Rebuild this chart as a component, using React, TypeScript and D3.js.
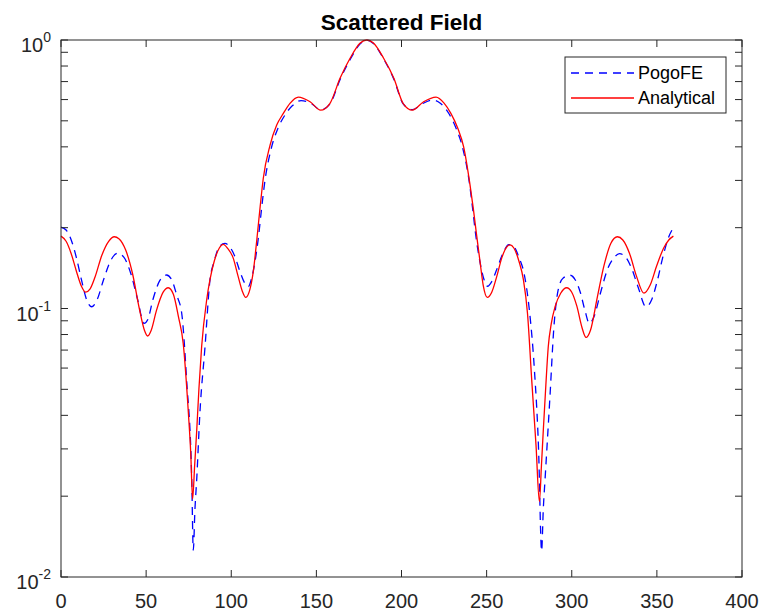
import React, { useEffect, useRef } from "react";
import * as d3 from "d3";

// angle (deg) and normalised field amplitude
const pogoAngle = [0, 3, 6, 9, 12, 15, 18, 21, 25, 29, 33.3, 37, 41, 45, 48.8, 51, 54, 58, 62, 65, 68, 70.9, 73.8, 76.8, 77.7, 78.7, 79.7, 81.6, 84.6, 87.5, 90, 93, 96.3, 99, 102, 105, 108, 110, 112, 114, 116, 117.8, 119.5, 123.5, 127.5, 131.5, 136, 141, 147, 152.5, 158, 164, 170, 175.6, 179.6, 183.5, 189.5, 195.5, 201, 206.4, 212.5, 218.5, 223, 228, 232, 236, 240, 241.8, 243.5, 246, 248.5, 250.5, 253, 256, 259.5, 263, 266, 269, 272, 275, 278, 280.5, 282.3, 283.3, 284.3, 287.2, 289.5, 292, 295, 299, 302, 305, 308, 310.3, 313, 317, 321, 325, 328, 331, 335, 339, 343.6, 347, 350, 354, 357, 359.7];
const pogoField = [0.201, 0.196, 0.18, 0.155, 0.128, 0.108, 0.1015, 0.107, 0.128, 0.15, 0.1605, 0.155, 0.135, 0.108, 0.088, 0.091, 0.108, 0.127, 0.1333, 0.128, 0.112, 0.096, 0.054, 0.023, 0.0126, 0.018, 0.023, 0.041, 0.0721, 0.1277, 0.15, 0.17, 0.1749, 0.17, 0.157, 0.138, 0.124, 0.1206, 0.13, 0.15, 0.185, 0.235, 0.29, 0.395, 0.47, 0.525, 0.57, 0.595, 0.58, 0.55, 0.578, 0.715, 0.85, 0.965, 1.0, 0.97, 0.85, 0.715, 0.578, 0.55, 0.58, 0.598, 0.58, 0.53, 0.47, 0.395, 0.29, 0.235, 0.19, 0.15, 0.128, 0.121, 0.126, 0.14, 0.16, 0.173, 0.17, 0.155, 0.135, 0.1, 0.06, 0.03, 0.0125, 0.018, 0.023, 0.047, 0.085, 0.117, 0.13, 0.133, 0.128, 0.115, 0.097, 0.088, 0.093, 0.115, 0.14, 0.155, 0.16, 0.157, 0.142, 0.12, 0.1015, 0.108, 0.125, 0.16, 0.185, 0.2];

const analyticAngle = [0, 3, 6, 9, 12, 14.5, 17, 20, 24, 28, 31.3, 34, 38, 42, 46, 49, 50.9, 53, 56, 60, 63, 66, 69, 71.8, 74.8, 76.2, 77.3, 78.5, 79.7, 81, 82.6, 85.6, 87.5, 90, 93, 95.3, 98, 101, 104, 106.5, 108.5, 111, 113, 115, 117, 118.8, 122.8, 126.7, 130.6, 134.5, 139.4, 146.3, 152.5, 158, 163.9, 169.8, 175.6, 179.6, 183.5, 189.5, 195.5, 201, 206.4, 213, 220.3, 225, 229, 233, 236.5, 240.2, 242.2, 244, 246.1, 248, 250.4, 253, 256, 259, 262, 263.7, 266, 269, 271.6, 274, 276.5, 279, 281, 282.2, 283.3, 284.8, 286.2, 288, 290.2, 293.5, 297, 300, 303, 306, 308.4, 311, 315, 319, 323, 326.8, 330, 334, 338, 342.4, 346, 350, 354, 357, 359.7];
const analyticField = [0.186, 0.178, 0.16, 0.138, 0.121, 0.115, 0.118, 0.131, 0.158, 0.178, 0.185, 0.182, 0.165, 0.135, 0.1, 0.083, 0.079, 0.083, 0.098, 0.115, 0.1195, 0.113, 0.093, 0.074, 0.041, 0.029, 0.0195, 0.026, 0.035, 0.05, 0.072, 0.108, 0.128, 0.15, 0.168, 0.1734, 0.167, 0.155, 0.132, 0.116, 0.11, 0.118, 0.138, 0.18, 0.24, 0.305, 0.406, 0.482, 0.533, 0.581, 0.613, 0.589, 0.548, 0.581, 0.72, 0.855, 0.972, 1.0, 0.975, 0.855, 0.72, 0.58, 0.548, 0.589, 0.613, 0.582, 0.533, 0.47, 0.4, 0.29, 0.235, 0.19, 0.15, 0.122, 0.11, 0.115, 0.132, 0.155, 0.17, 0.1725, 0.168, 0.15, 0.128, 0.096, 0.054, 0.031, 0.0191, 0.026, 0.0353, 0.052, 0.072, 0.088, 0.1015, 0.114, 0.1195, 0.115, 0.102, 0.085, 0.078, 0.083, 0.11, 0.145, 0.175, 0.185, 0.18, 0.16, 0.132, 0.114, 0.122, 0.145, 0.168, 0.18, 0.186];

const xTicks = [0, 50, 100, 150, 200, 250, 300, 350, 400];
const yDecades = [0.01, 0.1, 1];
const yExponents = ["-2", "-1", "0"];
const seriesNames = ["PogoFE", "Analytical"];

export default function App() {
  const ref = useRef<SVGSVGElement>(null);

  useEffect(() => {
    const W = 764, H = 616;
    const left = 61, right = 742, top = 40, bottom = 577;
    const svg = d3.select(ref.current);
    svg.selectAll("*").remove();
    svg.attr("width", W).attr("height", H);

    const font = "'Liberation Sans', Arial, Helvetica, sans-serif";
    const axisCol = "#262626";

    const x = d3.scaleLinear().domain([0, 400]).range([left, right]);
    const y = d3.scaleLog().domain([0.01, 1]).range([bottom, top]);

    svg.append("rect").attr("width", W).attr("height", H).attr("fill", "#fff");

    // data lines
    const line = (xs: number[], vs: number[]) =>
      d3.line<number>()
        .x((d, i) => x(xs[i]))
        .y((d) => y(d))
        .curve(d3.curveMonotoneX)(vs);

    svg.append("path")
      .attr("d", line(pogoAngle, pogoField))
      .attr("fill", "none")
      .attr("stroke", "#0000ff")
      .attr("stroke-width", 1.3)
      .attr("stroke-dasharray", "8,6");

    svg.append("path")
      .attr("d", line(analyticAngle, analyticField))
      .attr("fill", "none")
      .attr("stroke", "#ff0000")
      .attr("stroke-width", 1.3);

    // box
    svg.append("rect")
      .attr("x", left).attr("y", top)
      .attr("width", right - left).attr("height", bottom - top)
      .attr("fill", "none").attr("stroke", axisCol).attr("stroke-width", 1);

    const tl = 7;
    // x ticks (inward, top & bottom)
    xTicks.forEach((t) => {
      const px = x(t);
      svg.append("line").attr("x1", px).attr("x2", px).attr("y1", bottom).attr("y2", bottom - tl).attr("stroke", axisCol);
      svg.append("line").attr("x1", px).attr("x2", px).attr("y1", top).attr("y2", top + tl).attr("stroke", axisCol);
      svg.append("text")
        .attr("x", px).attr("y", 608)
        .attr("text-anchor", "middle")
        .attr("font-family", font).attr("font-size", 20)
        .attr("fill", axisCol)
        .text(t);
    });

    // y ticks, major + minor
    const minor: number[] = [];
    [0.01, 0.1].forEach((d) => { for (let k = 2; k <= 9; k++) minor.push(d * k); });
    [...yDecades, ...minor].forEach((t) => {
      const py = y(t);
      svg.append("line").attr("x1", left).attr("x2", left + tl).attr("y1", py).attr("y2", py).attr("stroke", axisCol);
      svg.append("line").attr("x1", right).attr("x2", right - tl).attr("y1", py).attr("y2", py).attr("stroke", axisCol);
    });

    yDecades.forEach((t, i) => {
      const py = y(t);
      const txt = svg.append("text")
        .attr("x", 51).attr("y", py + 12)
        .attr("text-anchor", "end")
        .attr("font-family", font).attr("font-size", 20)
        .attr("fill", axisCol);
      txt.append("tspan").text("10");
      txt.append("tspan").attr("dy", -10).attr("font-size", 14).text(yExponents[i]);
    });

    // title
    svg.append("text")
      .attr("x", (left + right) / 2).attr("y", 30)
      .attr("text-anchor", "middle")
      .attr("font-family", font).attr("font-size", 22.5).attr("font-weight", "bold")
      .attr("fill", "#000")
      .text("Scattered Field");

    // legend
    const lg = svg.append("g");
    lg.append("rect")
      .attr("x", 565).attr("y", 57).attr("width", 161).attr("height", 56)
      .attr("fill", "#fff").attr("stroke", axisCol).attr("stroke-width", 1);
    const colors = ["#0000ff", "#ff0000"];
    const dashes = ["8,6", null];
    seriesNames.forEach((name, i) => {
      const ly = 73 + i * 25;
      const l = lg.append("line")
        .attr("x1", 571).attr("x2", 634).attr("y1", ly).attr("y2", ly)
        .attr("stroke", colors[i]).attr("stroke-width", 1.3);
      if (dashes[i]) l.attr("stroke-dasharray", dashes[i] as string);
      lg.append("text")
        .attr("x", 638).attr("y", ly + 6)
        .attr("font-family", font).attr("font-size", 18)
        .attr("fill", "#000")
        .text(name);
    });
  }, []);

  return (
    <svg ref={ref} style={{ position: "absolute", left: 0, top: 0, display: "block" }} />
  );
}
